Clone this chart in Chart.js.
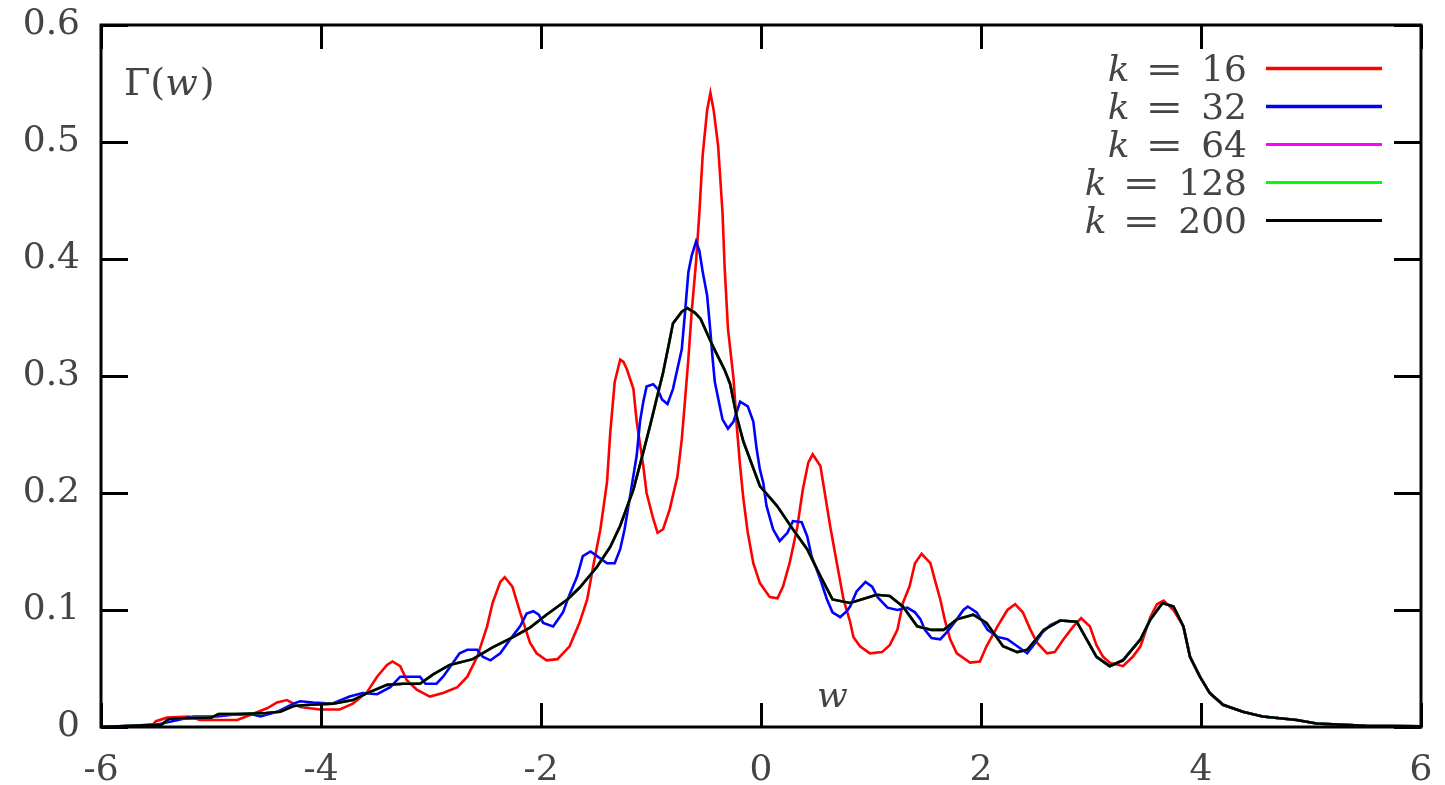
<!doctype html>
<html>
<head>
<title>Gamma(w)</title>
<script src="https://cdn.jsdelivr.net/npm/chart.js@4.4.9/dist/chart.umd.min.js"></script>
<script>
// k = 16
const kx16 = [
  -6, -5.55, -5.5, -5.4, -5.2, -5.1, -4.76, -4.6, -4.49, -4.4,
  -4.31, -4.19, -4.01, -3.83, -3.71, -3.58, -3.49, -3.4, -3.35, -3.28,
  -3.22, -3.13, -3.01, -2.89, -2.76, -2.67, -2.58, -2.49, -2.44, -2.37,
  -2.33, -2.26, -2.19, -2.1, -2.04, -1.95, -1.85, -1.74, -1.65, -1.58,
  -1.53, -1.46, -1.4, -1.37, -1.33, -1.28, -1.25, -1.22, -1.16, -1.13,
  -1.07, -1.04, -0.98, -0.94, -0.89, -0.83, -0.76, -0.72, -0.69, -0.66,
  -0.63, -0.59, -0.56, -0.53, -0.49, -0.46, -0.43, -0.39, -0.35, -0.33,
  -0.3, -0.25, -0.22, -0.19, -0.16, -0.12, -0.07, -0.01, 0.08, 0.15,
  0.2, 0.26, 0.33, 0.38, 0.43, 0.47, 0.54, 0.58, 0.63, 0.69,
  0.75, 0.81, 0.84, 0.9, 0.99, 1.1, 1.17, 1.24, 1.29, 1.35,
  1.4, 1.46, 1.54, 1.58, 1.63, 1.67, 1.72, 1.78, 1.9, 1.99,
  2.05, 2.15, 2.24, 2.31, 2.38, 2.45, 2.51, 2.6, 2.67, 2.75,
  2.84, 2.91, 2.99, 3.05, 3.11, 3.17, 3.29, 3.38, 3.45, 3.54,
  3.6, 3.66, 3.75, 3.84, 3.9, 3.99, 4.08, 4.2, 4.38, 4.56,
  4.87, 5.05, 5.5, 6
];
const ky16 = [
  0, 0, 0.005, 0.008, 0.009, 0.006, 0.006, 0.012, 0.016, 0.021,
  0.023, 0.017, 0.015, 0.015, 0.020, 0.030, 0.043, 0.053, 0.056, 0.052,
  0.040, 0.032, 0.026, 0.029, 0.034, 0.043, 0.060, 0.086, 0.106, 0.124,
  0.128, 0.120, 0.098, 0.072, 0.063, 0.057, 0.058, 0.069, 0.089, 0.109,
  0.135, 0.169, 0.209, 0.252, 0.295, 0.314, 0.312, 0.306, 0.289, 0.261,
  0.223, 0.200, 0.178, 0.166, 0.169, 0.186, 0.214, 0.246, 0.280, 0.315,
  0.355, 0.398, 0.440, 0.489, 0.527, 0.542, 0.527, 0.497, 0.440, 0.392,
  0.340, 0.298, 0.257, 0.223, 0.195, 0.166, 0.140, 0.123, 0.111, 0.110,
  0.120, 0.140, 0.171, 0.203, 0.226, 0.233, 0.223, 0.200, 0.171, 0.140,
  0.109, 0.090, 0.077, 0.069, 0.063, 0.064, 0.070, 0.083, 0.106, 0.120,
  0.140, 0.148, 0.140, 0.126, 0.109, 0.092, 0.075, 0.063, 0.055, 0.056,
  0.069, 0.086, 0.100, 0.105, 0.098, 0.083, 0.072, 0.063, 0.064, 0.075,
  0.086, 0.093, 0.086, 0.070, 0.060, 0.055, 0.052, 0.060, 0.069, 0.094,
  0.105, 0.108, 0.100, 0.086, 0.060, 0.043, 0.029, 0.019, 0.013, 0.009,
  0.006, 0.003, 0.001, 0.0005
];

// k = 32
const kx32 = [
  -6, -5.5, -5.3, -5.16, -4.95, -4.76, -4.63, -4.55, -4.4, -4.25,
  -4.19, -4.07, -3.9, -3.74, -3.62, -3.49, -3.37, -3.28, -3.1, -3.05,
  -2.95, -2.89, -2.8, -2.74, -2.67, -2.58, -2.53, -2.46, -2.37, -2.28,
  -2.19, -2.13, -2.07, -2.02, -1.98, -1.89, -1.8, -1.75, -1.67, -1.62,
  -1.55, -1.49, -1.4, -1.33, -1.28, -1.24, -1.21, -1.17, -1.13, -1.1,
  -1.07, -1.04, -0.98, -0.94, -0.9, -0.85, -0.8, -0.76, -0.72, -0.69,
  -0.66, -0.63, -0.59, -0.56, -0.53, -0.49, -0.46, -0.44, -0.42, -0.37,
  -0.35, -0.3, -0.25, -0.19, -0.12, -0.07, -0.04, -0.01, 0.02, 0.05,
  0.11, 0.17, 0.24, 0.29, 0.37, 0.42, 0.46, 0.54, 0.6, 0.65,
  0.72, 0.78, 0.81, 0.87, 0.95, 1.01, 1.06, 1.15, 1.24, 1.33,
  1.4, 1.45, 1.49, 1.55, 1.63, 1.69, 1.78, 1.84, 1.88, 1.96,
  2.02, 2.06, 2.15, 2.24, 2.33, 2.42, 2.47, 2.56, 2.63, 2.72,
  2.87, 2.93, 3.05, 3.17, 3.29, 3.45, 3.54, 3.65, 3.75, 3.84,
  3.9, 3.99, 4.08, 4.2, 4.38, 4.56, 4.87, 5.05, 5.5, 6
];
const ky32 = [
  0, 0.002, 0.006, 0.009, 0.009, 0.011, 0.011, 0.009, 0.013, 0.020,
  0.022, 0.021, 0.020, 0.026, 0.029, 0.028, 0.034, 0.043, 0.043, 0.037,
  0.037, 0.043, 0.055, 0.063, 0.066, 0.066, 0.060, 0.057, 0.063, 0.075,
  0.086, 0.097, 0.099, 0.096, 0.089, 0.086, 0.098, 0.111, 0.129, 0.146,
  0.150, 0.146, 0.140, 0.140, 0.152, 0.169, 0.186, 0.209, 0.232, 0.261,
  0.278, 0.291, 0.293, 0.289, 0.280, 0.276, 0.289, 0.306, 0.323, 0.355,
  0.389, 0.403, 0.415, 0.407, 0.389, 0.369, 0.338, 0.315, 0.295, 0.272,
  0.263, 0.255, 0.261, 0.278, 0.274, 0.261, 0.238, 0.220, 0.209, 0.189,
  0.169, 0.159, 0.166, 0.176, 0.175, 0.163, 0.146, 0.126, 0.109, 0.098,
  0.094, 0.099, 0.103, 0.116, 0.124, 0.120, 0.111, 0.102, 0.100, 0.102,
  0.098, 0.092, 0.083, 0.076, 0.075, 0.081, 0.092, 0.100, 0.103, 0.098,
  0.089, 0.083, 0.077, 0.075, 0.069, 0.063, 0.069, 0.081, 0.087, 0.091,
  0.090, 0.080, 0.060, 0.052, 0.057, 0.075, 0.092, 0.106, 0.103, 0.086,
  0.060, 0.043, 0.029, 0.019, 0.013, 0.009, 0.006, 0.003, 0.001, 0.0005
];

// k = 200 (k = 64 and k = 128 lie on top of it)
const kx200 = [
  -6, -5.45, -5.38, -5.0, -4.93, -4.75, -4.5, -4.37, -4.25, -4.1,
  -3.89, -3.71, -3.58, -3.4, -3.25, -3.1, -2.98, -2.83, -2.62, -2.44,
  -2.25, -2.1, -1.95, -1.76, -1.65, -1.49, -1.37, -1.28, -1.16, -1.07,
  -1.01, -0.95, -0.89, -0.84, -0.8, -0.72, -0.67, -0.6, -0.55, -0.44,
  -0.33, -0.28, -0.22, -0.16, -0.01, 0.145, 0.29, 0.42, 0.54, 0.65,
  0.81, 0.95, 1.05, 1.17, 1.29, 1.42, 1.55, 1.66, 1.78, 1.93,
  2.05, 2.2, 2.33, 2.42, 2.57, 2.72, 2.87, 2.93, 3.05, 3.17,
  3.29, 3.45, 3.54, 3.65, 3.75, 3.84, 3.9, 3.99, 4.08, 4.2,
  4.38, 4.56, 4.87, 5.05, 5.5, 6
];
const ky200 = [
  0, 0.002, 0.007, 0.008, 0.011, 0.011, 0.012, 0.013, 0.018, 0.019,
  0.020, 0.023, 0.029, 0.036, 0.037, 0.037, 0.045, 0.053, 0.058, 0.068,
  0.077, 0.085, 0.096, 0.109, 0.119, 0.137, 0.154, 0.172, 0.203, 0.235,
  0.257, 0.280, 0.303, 0.326, 0.345, 0.355, 0.358, 0.354, 0.349, 0.326,
  0.305, 0.293, 0.265, 0.244, 0.206, 0.189, 0.169, 0.152, 0.129, 0.109,
  0.106, 0.110, 0.113, 0.112, 0.103, 0.086, 0.083, 0.083, 0.092, 0.096,
  0.089, 0.069, 0.064, 0.066, 0.083, 0.091, 0.090, 0.080, 0.060, 0.052,
  0.057, 0.075, 0.092, 0.106, 0.103, 0.086, 0.060, 0.043, 0.029, 0.019,
  0.013, 0.009, 0.006, 0.003, 0.001, 0.0005
];
const kx64 = kx200, ky64 = ky200;
const kx128 = kx200, ky128 = ky200;

const labels = ['16', '32', '64', '128', '200'];
const colors = ['#ff0000', '#0000ff', '#ff00ff', '#00ff00', '#000000'];
const xTicks = [-6, 6, 2];
const yTicks = [0, 0.6, 0.1];

const serif = '"DejaVu Serif", "Liberation Serif", serif';
const textColor = '#444';

function pts(xs, ys) {
  return xs.map((x, i) => ({ x, y: ys[i] }));
}

// frame, inward tick marks, in-plot labels and the legend
const decorations = {
  id: 'decorations',
  afterDraw(chart) {
    const ctx = chart.ctx;
    const a = chart.chartArea;
    const xs = chart.scales.x, ys = chart.scales.y;
    ctx.save();
    ctx.strokeStyle = '#000';
    ctx.lineWidth = 3;
    ctx.lineCap = 'butt';
    ctx.beginPath();
    ys.ticks.forEach(t => {
      const py = Math.round(ys.getPixelForValue(t.value)) + 0.5;
      ctx.moveTo(a.left, py); ctx.lineTo(a.left + 27, py);
      ctx.moveTo(a.right, py); ctx.lineTo(a.right - 27, py);
    });
    xs.ticks.forEach(t => {
      const px = Math.round(xs.getPixelForValue(t.value)) + 0.5;
      ctx.moveTo(px, a.bottom); ctx.lineTo(px, a.bottom - 24);
      ctx.moveTo(px, a.top); ctx.lineTo(px, a.top + 24);
    });
    ctx.stroke();
    ctx.strokeRect(a.left, a.top, a.right - a.left, a.bottom - a.top);

    ctx.fillStyle = textColor;
    ctx.textBaseline = 'alphabetic';

    // Γ(w) in the top left corner
    ctx.textAlign = 'left';
    ctx.font = '38px ' + serif;
    let x = a.left + 23;
    const base = 95;
    ctx.fillText('Γ(', x, base);
    x += ctx.measureText('Γ(').width;
    ctx.font = 'italic 38px ' + serif;
    ctx.fillText('w', x, base);
    x += ctx.measureText('w').width + 2;
    ctx.font = '38px ' + serif;
    ctx.fillText(')', x, base);

    // axis name w inside the plot
    ctx.font = 'italic 36px ' + serif;
    ctx.textAlign = 'center';
    ctx.fillText('w', xs.getPixelForValue(0.65), 707);

    // legend: "k = N" right aligned, sample line to the right
    const textRight = 1247;
    chart.data.datasets.forEach((ds, i) => {
      const cy = 68 + i * 38;
      const by = cy + 13;
      ctx.textAlign = 'right';
      ctx.font = '36px ' + serif;
      ctx.fillText(ds.label, textRight, by);
      let w = ctx.measureText(ds.label).width + 18;
      ctx.save();
      ctx.translate(textRight - w, by);
      ctx.scale(1.25, 1);
      ctx.fillText('=', 0, 0);
      ctx.restore();
      w += ctx.measureText('=').width * 1.25 + 16;
      ctx.font = 'italic 36px ' + serif;
      ctx.fillText('k', textRight - w, by);
      ctx.strokeStyle = ds.borderColor;
      ctx.lineWidth = i < 2 ? 3.5 : 3;
      ctx.beginPath();
      ctx.moveTo(1266, cy + 0.5);
      ctx.lineTo(1382, cy + 0.5);
      ctx.stroke();
    });
    ctx.restore();
  }
};

function go() {
  const series = [[kx16, ky16], [kx32, ky32], [kx64, ky64], [kx128, ky128], [kx200, ky200]];
  const datasets = series.map((s, i) => ({
    label: labels[i],
    data: pts(s[0], s[1]),
    borderColor: colors[i],
    borderWidth: 2.6,
    pointRadius: 0,
    tension: 0,
    order: series.length - i,
  }));

  const tickFont = { family: serif, size: 36 };

  new Chart(document.getElementById('gamma'), {
    type: 'line',
    data: { datasets },
    options: {
      responsive: false,
      animation: false,
      layout: { padding: { top: 25, right: 24, left: 0, bottom: 0 } },
      plugins: { legend: { display: false }, tooltip: { enabled: false } },
      scales: {
        x: {
          type: 'linear',
          min: xTicks[0], max: xTicks[1],
          ticks: { stepSize: xTicks[2], font: tickFont, color: textColor, padding: 22, maxRotation: 0 },
          grid: { display: false, drawTicks: false },
          border: { display: false },
          afterFit(s) {
            s.height = 58;
            s.paddingLeft = 0;
            s.paddingRight = 0;
          },
        },
        y: {
          min: yTicks[0], max: yTicks[1],
          ticks: {
            stepSize: yTicks[2], font: tickFont, color: textColor, padding: 21,
            callback: v => (Math.abs(v) < 1e-9 ? '0' : v.toFixed(1)),
          },
          grid: { display: false, drawTicks: false },
          border: { display: false },
          afterFit(s) {
            s.width = 101;
            s.paddingTop = 0;
            s.paddingBottom = 0;
          },
        },
      },
    },
    plugins: [decorations],
  });
}

window.onload = go;
</script>
</head>
<body style="margin:0;background:#fff">
<canvas id="gamma" width="1445" height="785"></canvas>
</body>
</html>
